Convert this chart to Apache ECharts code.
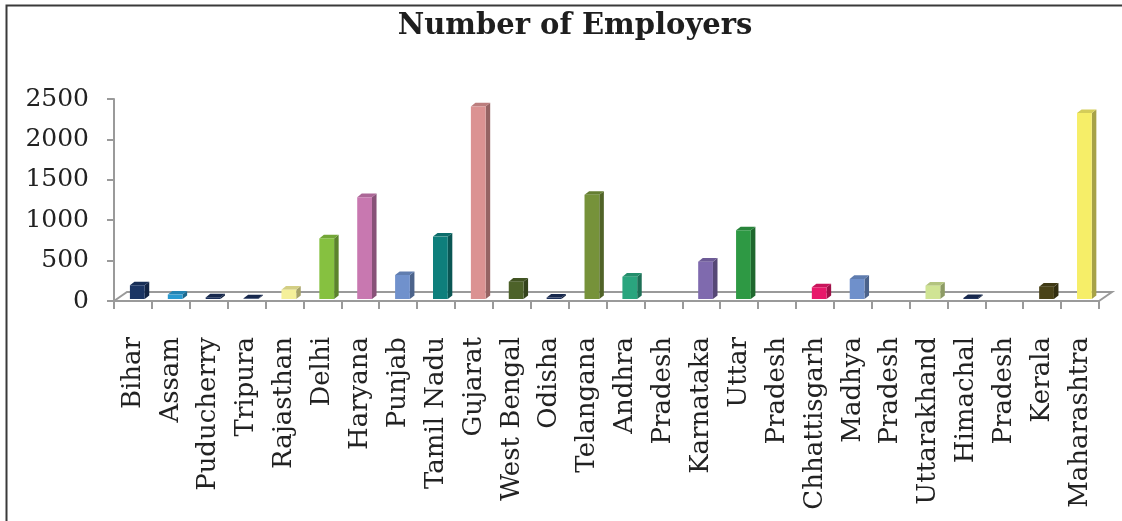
<!DOCTYPE html>
<html>
<head>
<meta charset="utf-8">
<script src="https://cdn.jsdelivr.net/npm/echarts@6/dist/echarts.min.js"></script>
<style>
  html, body { margin: 0; padding: 0; background: #ffffff; }
  #chart { width: 1122px; height: 521px; }
</style>
</head>
<body>
<div id="chart"></div>
<script>
// Employer counts by state (names split over two slots where the axis wraps them)
const categories = [
  'Bihar', 'Assam', 'Puducherry', 'Tripura', 'Rajasthan', 'Delhi', 'Haryana',
  'Punjab', 'Tamil Nadu', 'Gujarat', 'West Bengal', 'Odisha', 'Telangana',
  'Andhra', 'Pradesh', 'Karnataka', 'Uttar', 'Pradesh', 'Chhattisgarh',
  'Madhya', 'Pradesh', 'Uttarakhand', 'Himachal', 'Pradesh', 'Kerala', 'Maharashtra'
];
const employers = [
  170, 55, 20, 8, 115, 750, 1260,
  297, 772, 2383, 214, 18, 1289,
  276, null, 462, 851, null, 145,
  248, null, 165, 12, null, 153, 2301
];
const barColors = [
  '#1b3564', '#2a9ad0', '#1b2f5a', '#1b2f5a', '#f5f09a', '#86c140', '#c878b0',
  '#7091cc', '#0e7f7c', '#db9292', '#4d6229', '#1b2f5a', '#76923a',
  '#2aa57e', '#cccccc', '#7f6aae', '#2e9944', '#cccccc', '#e8186a',
  '#6f90cb', '#cccccc', '#d0e494', '#1b2f5a', '#cccccc', '#4a4318', '#f6ee68'
];
const yTicks = [0, 500, 1000, 1500, 2000, 2500];

function shade(hex, f) {
  const n = parseInt(hex.slice(1), 16);
  const r = Math.round(((n >> 16) & 255) * f);
  const g = Math.round(((n >> 8) & 255) * f);
  const b = Math.round((n & 255) * f);
  return 'rgb(' + Math.min(r, 255) + ',' + Math.min(g, 255) + ',' + Math.min(b, 255) + ')';
}

const DEPTH_X = 13, DEPTH_Y = 9;   // floor depth
const AXIS_GRAY = '#9a9a9a';

const chart = echarts.init(document.getElementById('chart'), null, { renderer: 'canvas' });

chart.setOption({
  backgroundColor: '#ffffff',
  animation: false,
  title: {
    text: 'Number of Employers',
    left: 570,
    top: 7,
    textAlign: 'center',
    textStyle: {
      fontFamily: 'DejaVu Serif',
      fontWeight: 'bold',
      fontSize: 29,
      color: '#1e1e1e'
    }
  },
  graphic: [{
    type: 'polyline',
    shape: { points: [[6.5, 540], [6.5, 5.5], [1130, 5.5]] },
    style: { stroke: '#3a3a3a', lineWidth: 2, fill: null },
    silent: true
  }],
  grid: { left: 114, right: 23, top: 99, bottom: 220, containLabel: false },
  xAxis: {
    type: 'category',
    data: categories,
    boundaryGap: true,
    axisLine: { show: true, lineStyle: { color: AXIS_GRAY, width: 2 } },
    axisTick: { show: true, alignWithLabel: false, length: 8, lineStyle: { color: AXIS_GRAY, width: 2 } },
    axisLabel: {
      interval: 0,
      rotate: 90,
      margin: 36,
      fontFamily: 'DejaVu Serif',
      fontSize: 26,
      color: '#222222'
    },
    splitLine: { show: false }
  },
  yAxis: {
    type: 'value',
    min: 0,
    max: 2500,
    interval: 500,
    axisLine: { show: true, lineStyle: { color: AXIS_GRAY, width: 2 } },
    axisTick: { show: true, length: 7, lineStyle: { color: AXIS_GRAY, width: 2 } },
    axisLabel: {
      margin: 25,
      fontFamily: 'DejaVu Serif',
      fontSize: 25,
      color: '#222222',
      customValues: yTicks,
      formatter: function (v) { return String(v); }
    },
    splitLine: { show: false }
  },
  series: [
    {
      // floor of the 3D plot area: back edge and the two side edges
      type: 'custom',
      z: 1,
      silent: true,
      data: [[0, 0]],
      renderItem: function (params, api) {
        const cs = params.coordSys;
        const yb = cs.y + cs.height;
        const xl = cs.x, xr = cs.x + cs.width;
        const style = { stroke: AXIS_GRAY, lineWidth: 2, fill: null };
        return {
          type: 'polyline',
          shape: { points: [[xl, yb], [xl + DEPTH_X, yb - DEPTH_Y], [xr + DEPTH_X, yb - DEPTH_Y], [xr, yb]] },
          style: style
        };
      }
    },
    {
      name: 'Number of Employers',
      type: 'custom',
      z: 3,
      data: employers.map(function (v, i) { return [i, v == null ? '-' : v]; }),
      renderItem: function (params, api) {
        const v = api.value(1);
        if (v == null || isNaN(v)) return null;
        const i = api.value(0);
        const band = api.size([1, 0])[0];
        const c = api.coord([i, 0]);
        const t = api.coord([i, v]);
        const cx = c[0];
        const base = c[1] - 2;
        const top = t[1] - 2;
        const x0 = cx - band * 0.08;
        const w = band * 0.39;
        const dx = band * 0.12, dy = band * 0.095;
        const col = barColors[i];
        return {
          type: 'group',
          children: [
            { // side face
              type: 'polygon',
              shape: { points: [[x0 + w, base], [x0 + w, top], [x0 + w + dx, top - dy], [x0 + w + dx, base - dy]] },
              style: { fill: shade(col, 0.68) }
            },
            { // top face
              type: 'polygon',
              shape: { points: [[x0, top], [x0 + dx, top - dy], [x0 + w + dx, top - dy], [x0 + w, top]] },
              style: { fill: shade(col, 0.86) }
            },
            { // front face
              type: 'rect',
              shape: { x: x0, y: top, width: w, height: base - top },
              style: { fill: col }
            }
          ]
        };
      }
    }
  ]
});
</script>
</body>
</html>
